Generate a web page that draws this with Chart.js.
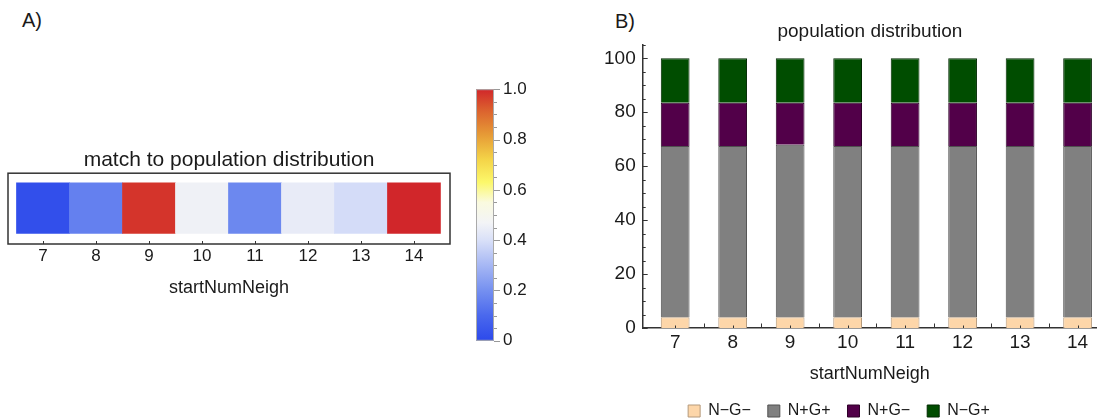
<!DOCTYPE html>
<html>
<head>
<meta charset="utf-8">
<script src="https://cdn.jsdelivr.net/npm/chart.js@4"></script>
<style>
  html, body { margin: 0; padding: 0; background: #fff; width: 1097px; height: 418px; overflow: hidden; }
  body { position: relative; font-family: 'Liberation Sans', Arial, sans-serif; color: #1a1a1a; }
  .tag { position: absolute; font-size: 20px; }
  canvas { position: absolute; }
</style>
</head>
<body>
<div class="tag" style="left:22px;top:9px">A)</div>
<div class="tag" style="left:615px;top:10px">B)</div>
<canvas id="heat" width="470" height="180" style="left:0;top:130px"></canvas>
<canvas id="cbar" width="160" height="290" style="left:460px;top:70px"></canvas>
<canvas id="bars" width="514" height="429" style="left:583px;top:0"></canvas>
<script>
// setup
const neigh = [7, 8, 9, 10, 11, 12, 13, 14];
const matchValues = [0.02, 0.16, 0.98, 0.46, 0.18, 0.44, 0.39, 1.0];

const seriesNames = ['N\u2212G\u2212', 'N+G+', 'N+G\u2212', 'N\u2212G+'];
const nmgm = [4.0, 4.0, 4.0, 4.0, 4.0, 4.0, 4.0, 4.0];
const npgp = [63.5, 63.5, 63.9, 63.5, 63.5, 63.5, 63.5, 63.5];
const npgm = [16.0, 16.0, 15.6, 16.0, 16.0, 16.0, 16.0, 16.0];
const nmgp = [16.5, 16.5, 16.5, 16.5, 16.5, 16.5, 16.5, 16.5];

const cbTicks = [0, 0.2, 0.4, 0.6, 0.8, 1.0];
const pctTicks = [0, 20, 40, 60, 80, 100];

// colour map (blue - white - yellow - red)
const cmap = [
  [0.00, [44, 73, 235]],
  [0.10, [74, 104, 237]],
  [0.20, [117, 144, 240]],
  [0.30, [166, 183, 244]],
  [0.40, [217, 224, 248]],
  [0.47, [243, 244, 246]],
  [0.55, [250, 250, 223]],
  [0.63, [252, 248, 106]],
  [0.72, [244, 212, 72]],
  [0.82, [230, 154, 54]],
  [0.92, [219, 95, 46]],
  [1.00, [209, 38, 42]]
];
function colorAt(v) {
  for (let i = 1; i < cmap.length; i++) {
    if (v <= cmap[i][0]) {
      const [v0, c0] = cmap[i - 1], [v1, c1] = cmap[i];
      const t = (v - v0) / (v1 - v0);
      const c = c0.map((a, k) => Math.round(a + (c1[k] - a) * t));
      return 'rgb(' + c.join(',') + ')';
    }
  }
  return 'rgb(' + cmap[cmap.length - 1][1].join(',') + ')';
}

Chart.defaults.font.family = "'Liberation Sans', Arial, sans-serif";
Chart.defaults.color = '#1a1a1a';
const ink = '#333';

function tick(ctx, x1, y1, x2, y2) {
  ctx.beginPath();
  ctx.moveTo(x1, y1);
  ctx.lineTo(x2, y2);
  ctx.stroke();
}

// A) heat strip
const framePlugin = {
  id: 'frame',
  afterDraw(chart) {
    const {ctx, chartArea: a, scales: {x}} = chart;
    ctx.save();
    ctx.strokeStyle = ink;
    ctx.lineWidth = 1.5;
    ctx.strokeRect(a.left, a.top, a.right - a.left, a.bottom - a.top);
    ctx.lineWidth = 1;
    neigh.forEach(n => {
      const px = Math.round(x.getPixelForValue(n)) + 0.5;
      tick(ctx, px, a.bottom, px, a.bottom - 3);
    });
    ctx.restore();
  }
};

const heatChart = new Chart(document.getElementById('heat'), {
  type: 'bar',
  data: {
    datasets: [{
      data: neigh.map(n => ({x: n, y: 1})),
      backgroundColor: matchValues.map(colorAt),
      borderWidth: 0,
      barPercentage: 1,
      categoryPercentage: 1
    }]
  },
  options: {
    responsive: false,
    animation: false,
    layout: {padding: {left: 8, right: 20, top: 6, bottom: 11}},
    plugins: {
      legend: {display: false},
      tooltip: {enabled: false},
      title: {
        display: true,
        text: 'match to population distribution',
        font: {size: 21, weight: 'normal'},
        padding: {top: 12, bottom: 0}
      }
    },
    scales: {
      x: {
        type: 'linear',
        offset: false,
        min: 6.34,
        max: 14.68,
        ticks: {stepSize: 1, includeBounds: false, padding: 2, font: {size: 17}},
        grid: {display: false, drawTicks: false, offset: false},
        border: {display: false},
        title: {display: true, text: 'startNumNeigh', font: {size: 18}, padding: {top: 9, bottom: 0}}
      },
      y: {display: false, min: -0.21, max: 1.19}
    }
  },
  plugins: [framePlugin]
});

// colour bar legend
const cbarPlugin = {
  id: 'cbarTicks',
  afterDraw(chart) {
    const {ctx, chartArea: a, scales: {y}} = chart;
    ctx.save();
    ctx.strokeStyle = '#aaa';
    ctx.lineWidth = 1;
    ctx.strokeRect(a.left + 0.5, a.top + 0.5, a.right - a.left - 1, a.bottom - a.top - 1);
    ctx.strokeStyle = '#999';
    for (let k = 0; k <= 20; k++) {
      const py = Math.round(y.getPixelForValue(k / 20)) + 0.5;
      tick(ctx, a.right, py, a.right + (k % 4 === 0 ? 6 : 3), py);
    }
    ctx.restore();
  }
};

const cbarChart = new Chart(document.getElementById('cbar'), {
  type: 'bar',
  data: {
    labels: [''],
    datasets: [{
      data: [1],
      backgroundColor(c) {
        const a = c.chart.chartArea;
        if (!a) return null;
        const g = c.chart.ctx.createLinearGradient(0, a.bottom, 0, a.top);
        cmap.forEach(([v, col]) => g.addColorStop(v, 'rgb(' + col.join(',') + ')'));
        return g;
      },
      borderWidth: 0,
      barPercentage: 1,
      categoryPercentage: 1
    }]
  },
  options: {
    responsive: false,
    animation: false,
    layout: {padding: {left: 16, right: 76, top: 17, bottom: 17}},
    plugins: {legend: {display: false}, tooltip: {enabled: false}},
    scales: {
      x: {display: false},
      y: {
        position: 'right',
        min: 0,
        max: 1,
        afterBuildTicks(s) { s.ticks = cbTicks.map(v => ({value: v})); },
        afterFit(s) { s.width = 50; },
        ticks: {
          padding: 9,
          font: {size: 17},
          callback: v => (v === 0 ? '0' : v.toFixed(1))
        },
        grid: {display: false, drawTicks: false},
        border: {display: false}
      }
    }
  },
  plugins: [cbarPlugin]
});

// B) stacked population bars
const fills = ['#fdd6a9', '#808080', '#520049', '#004d00'];
const edges = ['#b59a7c', '#505050', '#2e0029', '#002a00'];
const series = [nmgm, npgp, npgm, nmgp];

const axisTicks = {
  id: 'axisTicks',
  afterLayout(chart) {
    // legend sits a little left of the canvas centre in the original
    chart.legend.left -= 8;
    chart.legend.right -= 8;
  },
  afterDraw(chart) {
    const {ctx, chartArea: a, scales: {x, y}} = chart;
    ctx.save();
    ctx.strokeStyle = ink;
    ctx.lineWidth = 1;
    for (let v = 0; v <= 105; v += 5) {
      const py = Math.round(y.getPixelForValue(v)) + 0.5;
      tick(ctx, a.left, py, a.left + (v % 20 === 0 ? 5 : 3), py);
    }
    neigh.forEach(n => {
      let px = Math.round(x.getPixelForValue(n)) + 0.5;
      tick(ctx, px, a.bottom, px, a.bottom - 2.5);
      if (n < 14) {
        px = Math.round(x.getPixelForValue(n + 0.5)) + 0.5;
        tick(ctx, px, a.bottom, px, a.bottom - 4.5);
      }
    });
    ctx.restore();
  }
};

const barChart = new Chart(document.getElementById('bars'), {
  type: 'bar',
  data: {
    datasets: series.map((s, k) => ({
      label: seriesNames[k],
      data: neigh.map((n, i) => ({x: n, y: s[i]})),
      backgroundColor: fills[k],
      borderColor: edges[k],
      borderWidth: 1,
      barPercentage: 0.5,
      categoryPercentage: 1
    }))
  },
  options: {
    responsive: false,
    animation: false,
    layout: {padding: {left: 14, right: 0, top: 4, bottom: 0}},
    plugins: {
      tooltip: {enabled: false},
      title: {
        display: true,
        fullSize: false,
        text: 'population distribution',
        font: {size: 19, weight: 'normal'},
        padding: {top: 16, bottom: 2}
      },
      legend: {
        position: 'bottom',
        labels: {boxWidth: 12, boxHeight: 12, padding: 17, font: {size: 16}}
      }
    },
    scales: {
      x: {
        type: 'linear',
        stacked: true,
        offset: false,
        min: 6.435,
        max: 14.338,
        ticks: {stepSize: 1, includeBounds: false, padding: 3, font: {size: 19}},
        grid: {display: false, drawTicks: false, offset: false},
        border: {display: true, color: ink, width: 1.5},
        title: {display: true, text: 'startNumNeigh', font: {size: 18}, padding: {top: 6.4, bottom: 1.2}}
      },
      y: {
        stacked: true,
        min: 0,
        max: 105,
        afterBuildTicks(s) { s.ticks = pctTicks.map(v => ({value: v})); },
        ticks: {padding: 7, font: {size: 19}},
        grid: {display: false, drawTicks: false},
        border: {display: true, color: ink, width: 1.5}
      }
    }
  },
  plugins: [axisTicks]
});
</script>
</body>
</html>
